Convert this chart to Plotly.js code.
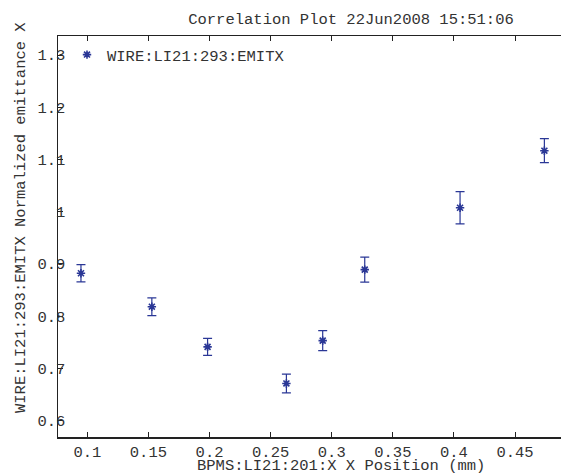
<!DOCTYPE html>
<html>
<head>
<meta charset="utf-8">
<script src="https://cdn.plot.ly/plotly-3.0.1.min.js"></script>
<style>html,body{margin:0;padding:0;background:#fff;}#chart{width:561px;height:473px;}</style>
</head>
<body>
<div id="chart"></div>
<script>
// Data
var seriesName = 'WIRE:LI21:293:EMITX';
var xVals = [0.0948, 0.1528, 0.1984, 0.2629, 0.2926, 0.3270, 0.4050, 0.4740];
var yVals = [0.882, 0.818, 0.741, 0.671, 0.753, 0.889, 1.0075, 1.1167];
var yErr  = [0.0165, 0.017, 0.0163, 0.018, 0.019, 0.024, 0.031, 0.023];

var titleText = 'Correlation Plot 22Jun2008 15:51:06';
var xTitle = 'BPMS:LI21:201:X X Position (mm)';
var yTitle = 'WIRE:LI21:293:EMITX Normalized emittance X';

var blue = '#2a3796';
var FONT = 'Liberation Mono, Courier New, monospace';
var FS = 15.5;

var trace = {
  type: 'scatter',
  mode: 'markers',
  name: seriesName,
  x: xVals,
  y: yVals,
  error_y: {type: 'data', array: yErr, visible: true, color: blue, thickness: 1.2, width: 4.5},
  marker: {symbol: 'asterisk-open', size: 7, color: blue, line: {color: blue, width: 1.6}},
  showlegend: true
};

var layout = {
  width: 561, height: 473,
  margin: {l: 58, r: 0, t: 36, b: 36, pad: 0},
  paper_bgcolor: '#fff', plot_bgcolor: '#fff',
  font: {family: FONT, size: FS, color: '#333'},
  title: {text: titleText, font: {family: FONT, size: FS, color: '#333'}, x: 351/561, xanchor: 'center', xref: 'container', y: 1 - 19/473, yanchor: 'middle', yref: 'container'},
  showlegend: true,
  legend: {x: 9/503, xanchor: 'left', y: (437-55)/401, yanchor: 'middle', bgcolor: 'rgba(0,0,0,0)', borderwidth: 0, font: {family: FONT, size: FS, color: '#333'}},
  xaxis: {
    range: [0.076, 0.4876], tick0: 0, dtick: 0.05,
    ticks: 'inside', ticklen: 5, tickcolor: '#222', tickwidth: 1,
    showline: true, linecolor: '#222', linewidth: 1.5, mirror: 'ticks',
    showgrid: false, zeroline: false,
    tickfont: {family: FONT, size: FS, color: '#333'}
  },
  yaxis: {
    range: [0.5684, 1.3364], tick0: 0, dtick: 0.1,
    ticks: 'inside', ticklen: 5, tickcolor: '#222', tickwidth: 1,
    showline: true, linecolor: '#222', linewidth: 1.5, mirror: false,
    showgrid: false, zeroline: false, ticklabelstandoff: -12,
    tickfont: {family: FONT, size: FS, color: '#333'}
  },
  annotations: [
    {text: xTitle, xref: 'paper', yref: 'paper', x: (341-58)/503, y: (437-466)/401, xanchor: 'center', yanchor: 'middle', showarrow: false, font: {family: FONT, size: FS, color: '#333'}},
    {text: yTitle, xref: 'paper', yref: 'paper', x: (21-58)/503, y: (437-218)/401, xanchor: 'center', yanchor: 'middle', textangle: -90, showarrow: false, font: {family: FONT, size: FS, color: '#333'}}
  ]
};

Plotly.newPlot('chart', [trace], layout, {displayModeBar: false, staticPlot: true});
</script>
</body>
</html>
